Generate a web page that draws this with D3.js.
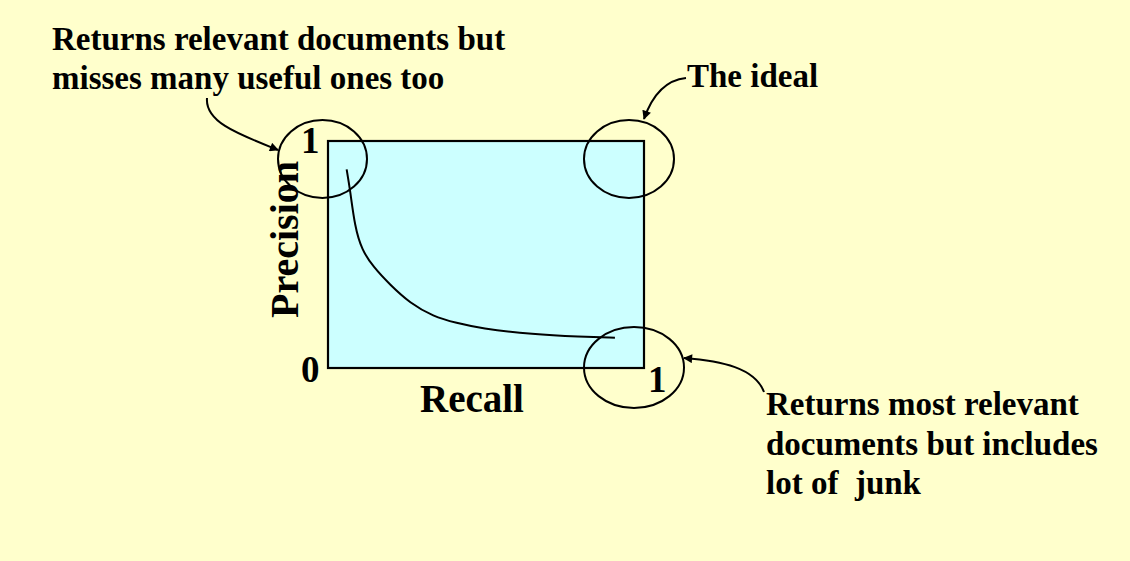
<!DOCTYPE html>
<html><head><meta charset="utf-8">
<script src="https://cdn.jsdelivr.net/npm/d3@7"></script>
<style>
html,body{margin:0;padding:0;background:#FFFFCC;}
svg{display:block;}
text{font-family:"Liberation Serif","Times New Roman",serif;font-weight:bold;fill:#000;}
</style></head><body>
<svg id="c" width="1130" height="561"></svg>
<script>
// Data
const recall    = [0.059, 0.070, 0.085, 0.107, 0.143, 0.196, 0.259, 0.333, 0.407, 0.481, 0.649, 0.797, 0.908];
const precision = [0.875, 0.784, 0.622, 0.520, 0.446, 0.367, 0.286, 0.227, 0.198, 0.175, 0.148, 0.138, 0.133];
const tickLabels = ["0", "1"];
const axisTitles = ["Recall", "Precision"];
const noteTopLeft = ["Returns relevant documents but", "misses many useful ones too"];
const noteIdeal = ["The ideal"];
const noteBottomRight = ["Returns most relevant", "documents but includes", "lot of  junk"];

const svg = d3.select("#c");
svg.append("rect").attr("width",1130).attr("height",561).attr("fill","#FFFFCC");

const x = d3.scaleLinear().domain([0,1]).range([328,644]);
const y = d3.scaleLinear().domain([0,1]).range([368,141]);

// plot area
svg.append("rect")
  .attr("x", x(0)).attr("y", y(1))
  .attr("width", x(1)-x(0)).attr("height", y(0)-y(1))
  .attr("fill","#CCFFFF").attr("stroke","#000").attr("stroke-width",2.2);

// curve
const pts = recall.map((r,i)=>[r, precision[i]]);
svg.append("path")
  .datum(pts)
  .attr("d", d3.line().x(d=>x(d[0])).y(d=>y(d[1])).curve(d3.curveBasis))
  .attr("fill","none").attr("stroke","#000").attr("stroke-width",2);

// tick labels
svg.append("text").text(tickLabels[0]).attr("x", x(0)-27).attr("y", y(0)+14).attr("font-size",37);
svg.append("text").text(tickLabels[1]).attr("x", x(0)-27).attr("y", y(1)+12).attr("font-size",37);
svg.append("text").text(tickLabels[1]).attr("x", x(1)+4).attr("y", y(0)+24).attr("font-size",37);

// axis titles
svg.append("text").text(axisTitles[0]).attr("x", 420).attr("y", y(0)+44)
  .attr("font-size",39);
svg.append("text").text(axisTitles[1])
  .attr("transform", `translate(${x(0)-30},${(y(0)+y(1))/2-15}) rotate(-90)`)
  .attr("text-anchor","middle").attr("font-size",40);

// ellipses
svg.append("ellipse").attr("cx", x(0)-5.5).attr("cy", y(1)+18).attr("rx",44.5).attr("ry",39)
  .attr("fill","none").attr("stroke","#000").attr("stroke-width",2);
svg.append("ellipse").attr("cx", x(1)-15).attr("cy", y(1)+18).attr("rx",45).attr("ry",39)
  .attr("fill","none").attr("stroke","#000").attr("stroke-width",2);
svg.append("ellipse").attr("cx", x(1)-10).attr("cy", y(0)-0.5).attr("rx",50).attr("ry",40.5)
  .attr("fill","none").attr("stroke","#000").attr("stroke-width",2);

// arrow marker
svg.append("defs").append("marker")
  .attr("id","ah").attr("viewBox","0 0 10 10").attr("refX",9).attr("refY",5)
  .attr("markerWidth",11).attr("markerHeight",9).attr("markerUnits","userSpaceOnUse")
  .attr("orient","auto")
  .append("path").attr("d","M0,0 L10,5 L0,10 Z").attr("fill","#000");

const arrows = [
  "M207,98 C205,122 238,134 278,150",
  "M686,78 C666,80 652,96 644,119",
  "M764,392 C755,368 722,361 684,358"
];
svg.selectAll("path.arrow").data(arrows).join("path").attr("class","arrow")
  .attr("d", d=>d).attr("fill","none").attr("stroke","#000").attr("stroke-width",2)
  .attr("marker-end","url(#ah)");

// notes
function note(lines, x0, y0, dy){
  const t = svg.append("text").attr("font-size",33);
  lines.forEach((l,i)=> t.append("tspan").attr("x",x0).attr("y",y0+i*dy).text(l).style("white-space","pre"));
}
note(noteTopLeft, 52, 50, 38.5);
note(noteIdeal, 687, 87, 0);
note(noteBottomRight, 766, 415, 39.5);
</script>
</body></html>
